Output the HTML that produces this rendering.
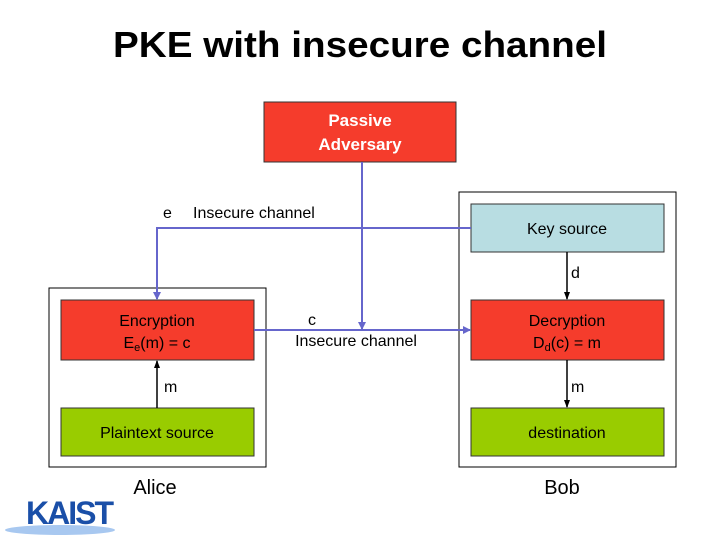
<!DOCTYPE html>
<html><head><meta charset="utf-8"><style>
body{margin:0;width:720px;height:540px;background:#fff;overflow:hidden}
</style></head><body>
<svg width="720" height="540" xmlns="http://www.w3.org/2000/svg" font-family="Liberation Sans, sans-serif">
<defs>
<marker id="b" markerWidth="8" markerHeight="8" refX="7" refY="4" orient="auto" markerUnits="userSpaceOnUse"><path d="M0,0 L8,4 L0,8z" fill="#6666cc"/></marker>
<marker id="k" markerWidth="8" markerHeight="8" refX="7" refY="4" orient="auto" markerUnits="userSpaceOnUse"><path d="M0,1 L8,4 L0,7z" fill="#000"/></marker>
</defs>
<text x="360" y="57" text-anchor="middle" font-size="36" font-weight="bold" textLength="494" lengthAdjust="spacingAndGlyphs">PKE with insecure channel</text>
<rect x="49" y="288" width="217" height="179" fill="none" stroke="#000" stroke-width="1"/>
<rect x="459" y="192" width="217" height="275" fill="none" stroke="#000" stroke-width="1"/>
<rect x="264" y="102" width="192" height="60" fill="#f53c2c" stroke="#333"/>
<text x="360" y="126" text-anchor="middle" font-size="17" fill="#fff" font-weight="bold">Passive</text>
<text x="360" y="150" text-anchor="middle" font-size="17" fill="#fff" font-weight="bold">Adversary</text>
<rect x="471" y="204" width="193" height="48" fill="#b8dde2" stroke="#333"/>
<text x="567" y="234" text-anchor="middle" font-size="16">Key source</text>
<rect x="61" y="300" width="193" height="60" fill="#f53c2c" stroke="#333"/>
<text x="157" y="326" text-anchor="middle" font-size="16">Encryption</text>
<text x="157" y="348" text-anchor="middle" font-size="16">E<tspan font-size="11" dy="3">e</tspan><tspan dy="-3">(m) = c</tspan></text>
<rect x="471" y="300" width="193" height="60" fill="#f53c2c" stroke="#333"/>
<text x="567" y="326" text-anchor="middle" font-size="16">Decryption</text>
<text x="567" y="348" text-anchor="middle" font-size="16">D<tspan font-size="11" dy="3">d</tspan><tspan dy="-3">(c) = m</tspan></text>
<rect x="61" y="408" width="193" height="48" fill="#99cc00" stroke="#333"/>
<text x="157" y="438" text-anchor="middle" font-size="16">Plaintext source</text>
<rect x="471" y="408" width="193" height="48" fill="#99cc00" stroke="#333"/>
<text x="567" y="438" text-anchor="middle" font-size="16">destination</text>
<g stroke="#6666cc" stroke-width="2" fill="none">
<path d="M471,228 H157 V299" marker-end="url(#b)"/>
<path d="M254,330 H470" marker-end="url(#b)"/>
<path d="M362,162 V329" marker-end="url(#b)"/>
</g>
<g stroke="#000" stroke-width="1.5" fill="none">
<path d="M157,408 V361" marker-end="url(#k)"/>
<path d="M567,252 V299" marker-end="url(#k)"/>
<path d="M567,360 V407" marker-end="url(#k)"/>
</g>
<text x="163" y="218" font-size="16">e</text>
<text x="193" y="218" font-size="16">Insecure channel</text>
<text x="571" y="278" font-size="16">d</text>
<text x="312" y="325" text-anchor="middle" font-size="16">c</text>
<text x="356" y="346" text-anchor="middle" font-size="16">Insecure channel</text>
<text x="164" y="392" font-size="16">m</text>
<text x="571" y="392" font-size="16">m</text>
<text x="155" y="494" text-anchor="middle" font-size="20">Alice</text>
<text x="562" y="494" text-anchor="middle" font-size="20">Bob</text>
<ellipse cx="60" cy="530" rx="55" ry="5" fill="#a8c8f0"/>
<text x="26" y="524" font-size="32" font-weight="bold" fill="#1a4fa8" letter-spacing="-2">KAIST</text>
</svg>
</body></html>
